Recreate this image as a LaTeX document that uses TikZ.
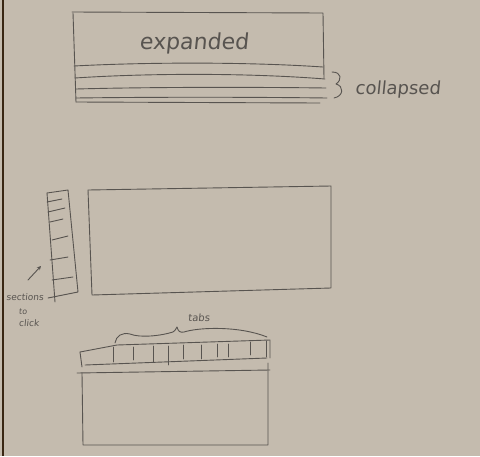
\documentclass[tikz,border=0pt]{standalone}
\usepackage{fontspec}
\setmainfont{DejaVu Sans}
\newfontfamily\handfont[FakeSlant=0.1]{DejaVu Sans}
\usetikzlibrary{arrows.meta}
\definecolor{paper}{RGB}{196,187,174}
\definecolor{pencil}{RGB}{88,84,80}
\tikzset{
  pen/.style={draw=pencil, line width=0.9pt, line cap=round, line join=round},
  hand/.style={text=pencil, inner sep=0pt}
}
\begin{document}
\begin{tikzpicture}[x=1pt,y=-1pt]
\fill[paper] (0,0) rectangle (480,456);
\useasboundingbox (0,0) rectangle (480,456);
\draw[draw=black!70!brown, line width=1.2pt] (3,0) -- (3,456);

% ---------- top: accordion ----------
\draw[pen] (72,12) -- (323,13) -- (324,78);
\draw[pen] (73,13) -- (76,102);
\draw[pen] (74,66) .. controls (150,62) and (250,62) .. (323,67);
\draw[pen] (75,78) .. controls (150,73) and (250,73) .. (325,79);
\draw[pen] (76,89) .. controls (150,87) and (250,87) .. (326,88);
\draw[pen] (76,98) .. controls (150,97) and (250,97) .. (327,98);
\draw[pen] (76,102) -- (320,103);
\node[hand, font=\handfont\fontsize{22}{22}\selectfont] (expanded) at (194,43) {expanded};
\draw[pen] (332,72) .. controls (342,72) and (342,80) .. (336,84)
               .. controls (344,86) and (344,96) .. (334,98);
\node[hand, font=\handfont\fontsize{18}{18}\selectfont, anchor=west] (collapsed) at (355,90) {collapsed};

% ---------- middle: side sections ----------
\draw[pen] (47,193) -- (68,190) -- (78,292) -- (48,298);
\draw[pen] (47,193) -- (55,302);
\draw[pen] (47,202) -- (62,199);
\draw[pen] (48,212) -- (65,208);
\draw[pen] (50,222) -- (63,219);
\draw[pen] (52,240) -- (68,236);
\draw[pen] (50,260) -- (68,257);
\draw[pen] (52,280) -- (73,277);
\draw[pen] (88,190) -- (331,186) -- (331,288) -- (92,295) -- cycle;
\coordinate (arrS) at (28,280);
\coordinate (arrE) at (41,266);
\draw[pen, -{Stealth[length=4pt,width=4pt]}] (arrS) -- (arrE);
\node[hand, font=\handfont\fontsize{9}{9}\selectfont] (sections) at (25,297) {sections};
\node[hand, font=\handfont\fontsize{8}{8}\selectfont] (to) at (23,312) {to};
\node[hand, font=\handfont\fontsize{9}{9}\selectfont] (click) at (29,323) {click};

% ---------- bottom: tabs ----------
\draw[pen] (80,352) -- (117,345) -- (270,340) -- (270,358);
\draw[pen] (85,365) -- (267,358);
\draw[pen] (80,352) -- (82,367);
\foreach \x/\t/\b in {113/347/362, 133/347/360, 153/346/362, 168/346/365, 183/345/359, 201/345/359, 217/344/357, 228/344/357, 250/342/355, 266/341/357}
  \draw[pen] (\x,\t) -- (\x,\b);
\draw[pen] (77,373) -- (270,370);
\draw[pen] (82,373) -- (83,445) -- (268,445) -- (268,363);
\draw[pen] (115,343) .. controls (116,336) and (122,332) .. (130,334)
               .. controls (140,338) and (160,336) .. (173,332)
               .. controls (176,330) and (176,328) .. (177,327)
               .. controls (178,331) and (180,333) .. (184,332)
               .. controls (200,327) and (240,326) .. (267,337);
\node[hand, font=\handfont\fontsize{10}{10}\selectfont] (tabs) at (199,318) {tabs};
\end{tikzpicture}
\end{document}
